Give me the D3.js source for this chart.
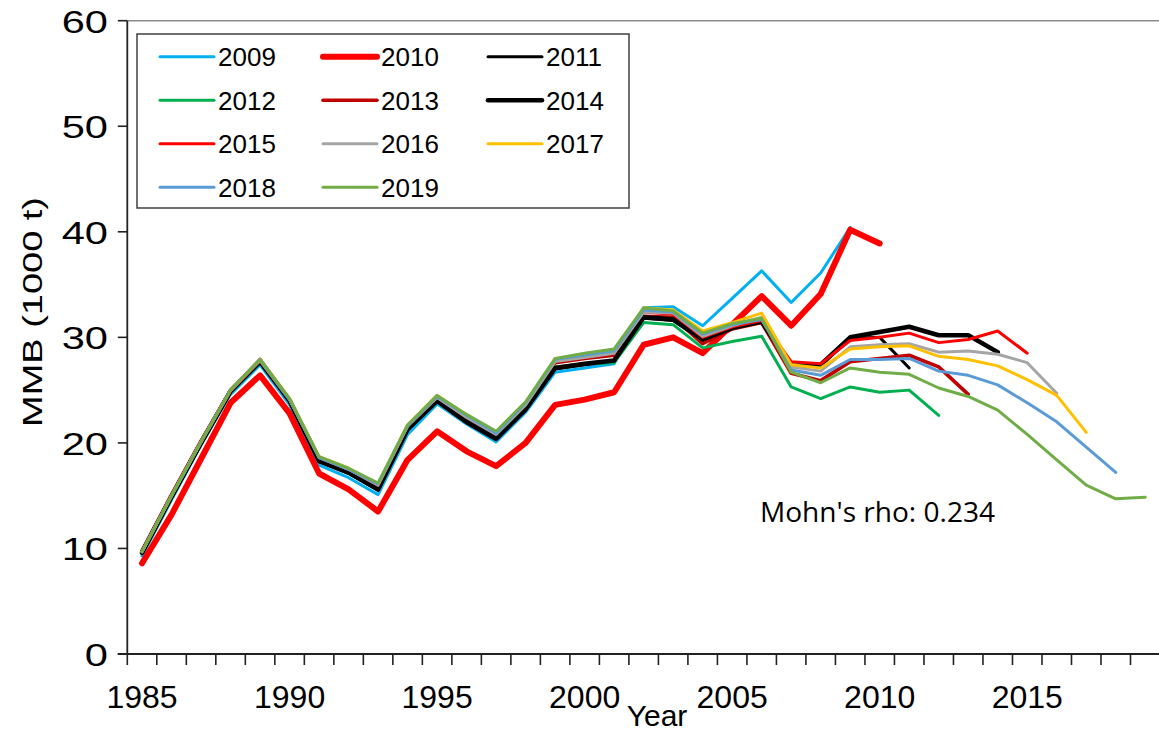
<!DOCTYPE html>
<html>
<head>
<meta charset="utf-8">
<script src="https://cdn.jsdelivr.net/npm/d3@7"></script>
<style>
  html, body { margin: 0; padding: 0; background: #fff; }
  svg { display: block; }
  text { font-family: "Liberation Sans", Arial, sans-serif; fill: #000; }
</style>
</head>
<body>
<svg id="chart" width="1159" height="734"></svg>
<script>
// Retrospective MMB estimates (1000 t), one series per assessment year
const years = d3.range(1985, 2020);
const xTickLabels = [1985, 1990, 1995, 2000, 2005, 2010, 2015];
const yTicks = [0, 10, 20, 30, 40, 50, 60];

const s2009 = [9.3,14.6,19.8,24.6,27.4,23.6,17.9,16.7,15.1,20.8,23.7,21.8,20.1,22.9,26.7,27.1,27.5,32.8,32.9,31.1,33.7,36.3,33.3,36.1,40.4];
const s2010 = [8.6,13.2,18.5,23.8,26.4,22.8,17.1,15.6,13.5,18.4,21.1,19.2,17.8,20.0,23.6,24.1,24.8,29.3,30.0,28.5,31.2,33.9,31.1,34.1,40.2,38.9];
const s2011 = [9.5,14.8,19.9,24.8,27.7,23.9,18.2,17.1,15.5,21.2,23.9,21.9,20.3,23.1,27.0,27.4,27.7,31.8,31.6,29.7,30.9,31.4,27.3,27.4,29.9,30.0,27.1];
const s2012 = [9.6,14.9,20.0,24.9,27.8,24.0,18.4,17.3,15.8,21.4,24.1,22.2,20.6,23.3,27.2,27.5,27.6,31.4,31.2,29.0,29.6,30.1,25.3,24.2,25.3,24.8,25.0,22.6];
const s2013 = [9.8,15.1,20.2,25.0,27.9,24.1,18.5,17.4,16.0,21.6,24.3,22.4,20.8,23.6,27.6,28.0,28.3,32.0,31.9,29.4,30.8,31.4,26.6,25.9,27.7,28.0,28.3,27.2,24.6];
const s2014 = [9.6,14.9,20.0,24.9,27.7,24.0,18.3,17.2,15.6,21.3,24.0,22.0,20.4,23.2,27.1,27.5,27.8,31.9,31.7,29.8,30.9,31.5,27.3,27.4,30.0,30.5,31.0,30.2,30.2,28.6];
const s2015 = [9.7,15.0,20.1,24.9,27.8,24.1,18.6,17.5,16.0,21.6,24.3,22.5,20.9,23.7,27.8,28.2,28.6,32.4,32.2,30.0,31.0,31.6,27.7,27.5,29.7,30.0,30.4,29.5,29.8,30.6,28.5];
const s2016 = [9.7,15.0,20.1,25.0,27.8,24.1,18.6,17.5,16.0,21.6,24.3,22.4,20.8,23.6,27.7,28.1,28.5,32.4,32.3,30.1,31.1,31.9,27.2,26.8,29.1,29.3,29.4,28.6,28.7,28.4,27.6,24.7];
const s2017 = [9.7,15.0,20.1,25.0,27.9,24.2,18.7,17.6,16.1,21.7,24.5,22.6,21.0,23.8,27.9,28.3,28.7,32.8,32.6,30.6,31.4,32.3,27.4,27.1,28.9,29.1,29.2,28.2,27.9,27.3,26.0,24.5,21.0];
const s2018 = [9.7,15.0,20.1,25.0,27.9,24.1,18.6,17.5,16.1,21.6,24.4,22.6,20.9,23.8,27.9,28.3,28.7,32.6,32.4,30.3,31.2,31.7,26.9,26.4,27.9,27.9,28.0,26.8,26.4,25.5,23.8,22.0,19.6,17.2];
const s2019 = [9.7,15.0,20.1,25.0,27.9,24.2,18.7,17.6,16.2,21.7,24.5,22.7,21.1,23.9,28.0,28.5,28.9,32.8,32.5,30.4,31.3,31.8,26.7,25.7,27.1,26.7,26.5,25.2,24.4,23.1,20.8,18.4,16.0,14.7,14.85];

const seriesNames = ["2009","2010","2011","2012","2013","2014","2015","2016","2017","2018","2019"];
const seriesValues = [s2009,s2010,s2011,s2012,s2013,s2014,s2015,s2016,s2017,s2018,s2019];
const seriesColors = ["#00B0F0","#FF0000","#000000","#00B050","#C00000","#000000","#FF0000","#A5A5A5","#FFC000","#5B9BD5","#70AD47"];
const seriesWidths = [3,6,3,3,3.6,4.6,3,3,3,3,3];

const svg = d3.select("#chart");

const plot = { left: 127.3, right: 1160, top: 20.7, bottom: 654 };

const x = d3.scaleBand().domain(years).range([plot.left, plot.right]).paddingInner(0).paddingOuter(0);
const y = d3.scaleLinear().domain([0, 60]).range([plot.bottom, plot.top]);
const cx = yr => x(yr) + x.bandwidth() / 2;

// top frame line of the plot area
svg.append("line")
  .attr("x1", plot.left).attr("x2", plot.right)
  .attr("y1", y(60)).attr("y2", y(60))
  .attr("stroke", "#8c8c8c").attr("stroke-width", 1.6);

// series lines, drawn oldest first
const line = d3.line()
  .x((d, i) => cx(years[i]))
  .y(d => y(d));

const gLines = svg.append("g");
seriesValues.forEach((vals, i) => {
  gLines.append("path")
    .datum(vals)
    .attr("d", line)
    .attr("fill", "none")
    .attr("stroke", seriesColors[i])
    .attr("stroke-width", seriesWidths[i])
    .attr("stroke-linejoin", "round")
    .attr("stroke-linecap", "round");
});

// y axis
const yAxis = svg.append("g");
yAxis.append("line")
  .attr("x1", plot.left).attr("x2", plot.left)
  .attr("y1", y(60)).attr("y2", y(0))
  .attr("stroke", "#222").attr("stroke-width", 1.8);
yTicks.forEach(t => {
  yAxis.append("line")
    .attr("x1", plot.left - 9.5).attr("x2", plot.left)
    .attr("y1", y(t)).attr("y2", y(t))
    .attr("stroke", "#222").attr("stroke-width", 1.6);
  yAxis.append("text")
    .attr("transform", `translate(108,${y(t) + 12}) scale(1.3,1)`)
    .attr("text-anchor", "end")
    .attr("font-size", 32)
    .text(t);
});

// x axis
const xAxis = svg.append("g");
xAxis.append("line")
  .attr("x1", plot.left - 9.5).attr("x2", plot.right)
  .attr("y1", y(0)).attr("y2", y(0))
  .attr("stroke", "#222").attr("stroke-width", 1.8);
years.concat([2020]).forEach(yr => {
  const xx = yr === 2020 ? plot.right : x(yr);
  xAxis.append("line")
    .attr("x1", xx).attr("x2", xx)
    .attr("y1", y(0)).attr("y2", y(0) + 11)
    .attr("stroke", "#222").attr("stroke-width", 1.6);
});
xTickLabels.forEach(yr => {
  xAxis.append("text")
    .attr("x", cx(yr)).attr("y", 707.5)
    .attr("text-anchor", "middle")
    .attr("font-size", 32)
    .text(yr);
});

// axis titles
svg.append("text")
  .attr("x", 657).attr("y", 726)
  .attr("text-anchor", "middle")
  .attr("font-size", 30)
  .text("Year");

svg.append("text")
  .attr("transform", "translate(42,312) rotate(-90)")
  .attr("text-anchor", "middle")
  .attr("font-size", 28)
  .attr("textLength", 230)
  .attr("lengthAdjust", "spacingAndGlyphs")
  .text("MMB (1000 t)");

// legend
const legend = svg.append("g");
legend.append("rect")
  .attr("x", 137).attr("y", 34)
  .attr("width", 492).attr("height", 174)
  .attr("fill", "#fff")
  .attr("stroke", "#404040").attr("stroke-width", 1.5);
const colLineX = [160, 323, 488];
const rowY = [56.7, 100.2, 143.8, 187.3];
seriesNames.forEach((name, i) => {
  const col = i % 3, row = Math.floor(i / 3);
  const lx = colLineX[col], ly = rowY[row];
  legend.append("line")
    .attr("x1", lx).attr("x2", lx + 54)
    .attr("y1", ly).attr("y2", ly)
    .attr("stroke", seriesColors[i])
    .attr("stroke-width", seriesWidths[i])
    .attr("stroke-linecap", "round");
  legend.append("text")
    .attr("x", lx + 58).attr("y", ly + 9.3)
    .attr("font-size", 26)
    .text(name);
});

// statistic annotation
svg.append("text")
  .attr("x", 760).attr("y", 521.7)
  .style("font-family", "'Open Sans', 'Noto Sans', sans-serif")
  .attr("font-size", 27)
  .attr("textLength", 235)
  .attr("lengthAdjust", "spacingAndGlyphs")
  .text("Mohn's rho: 0.234");
</script>
</body>
</html>
